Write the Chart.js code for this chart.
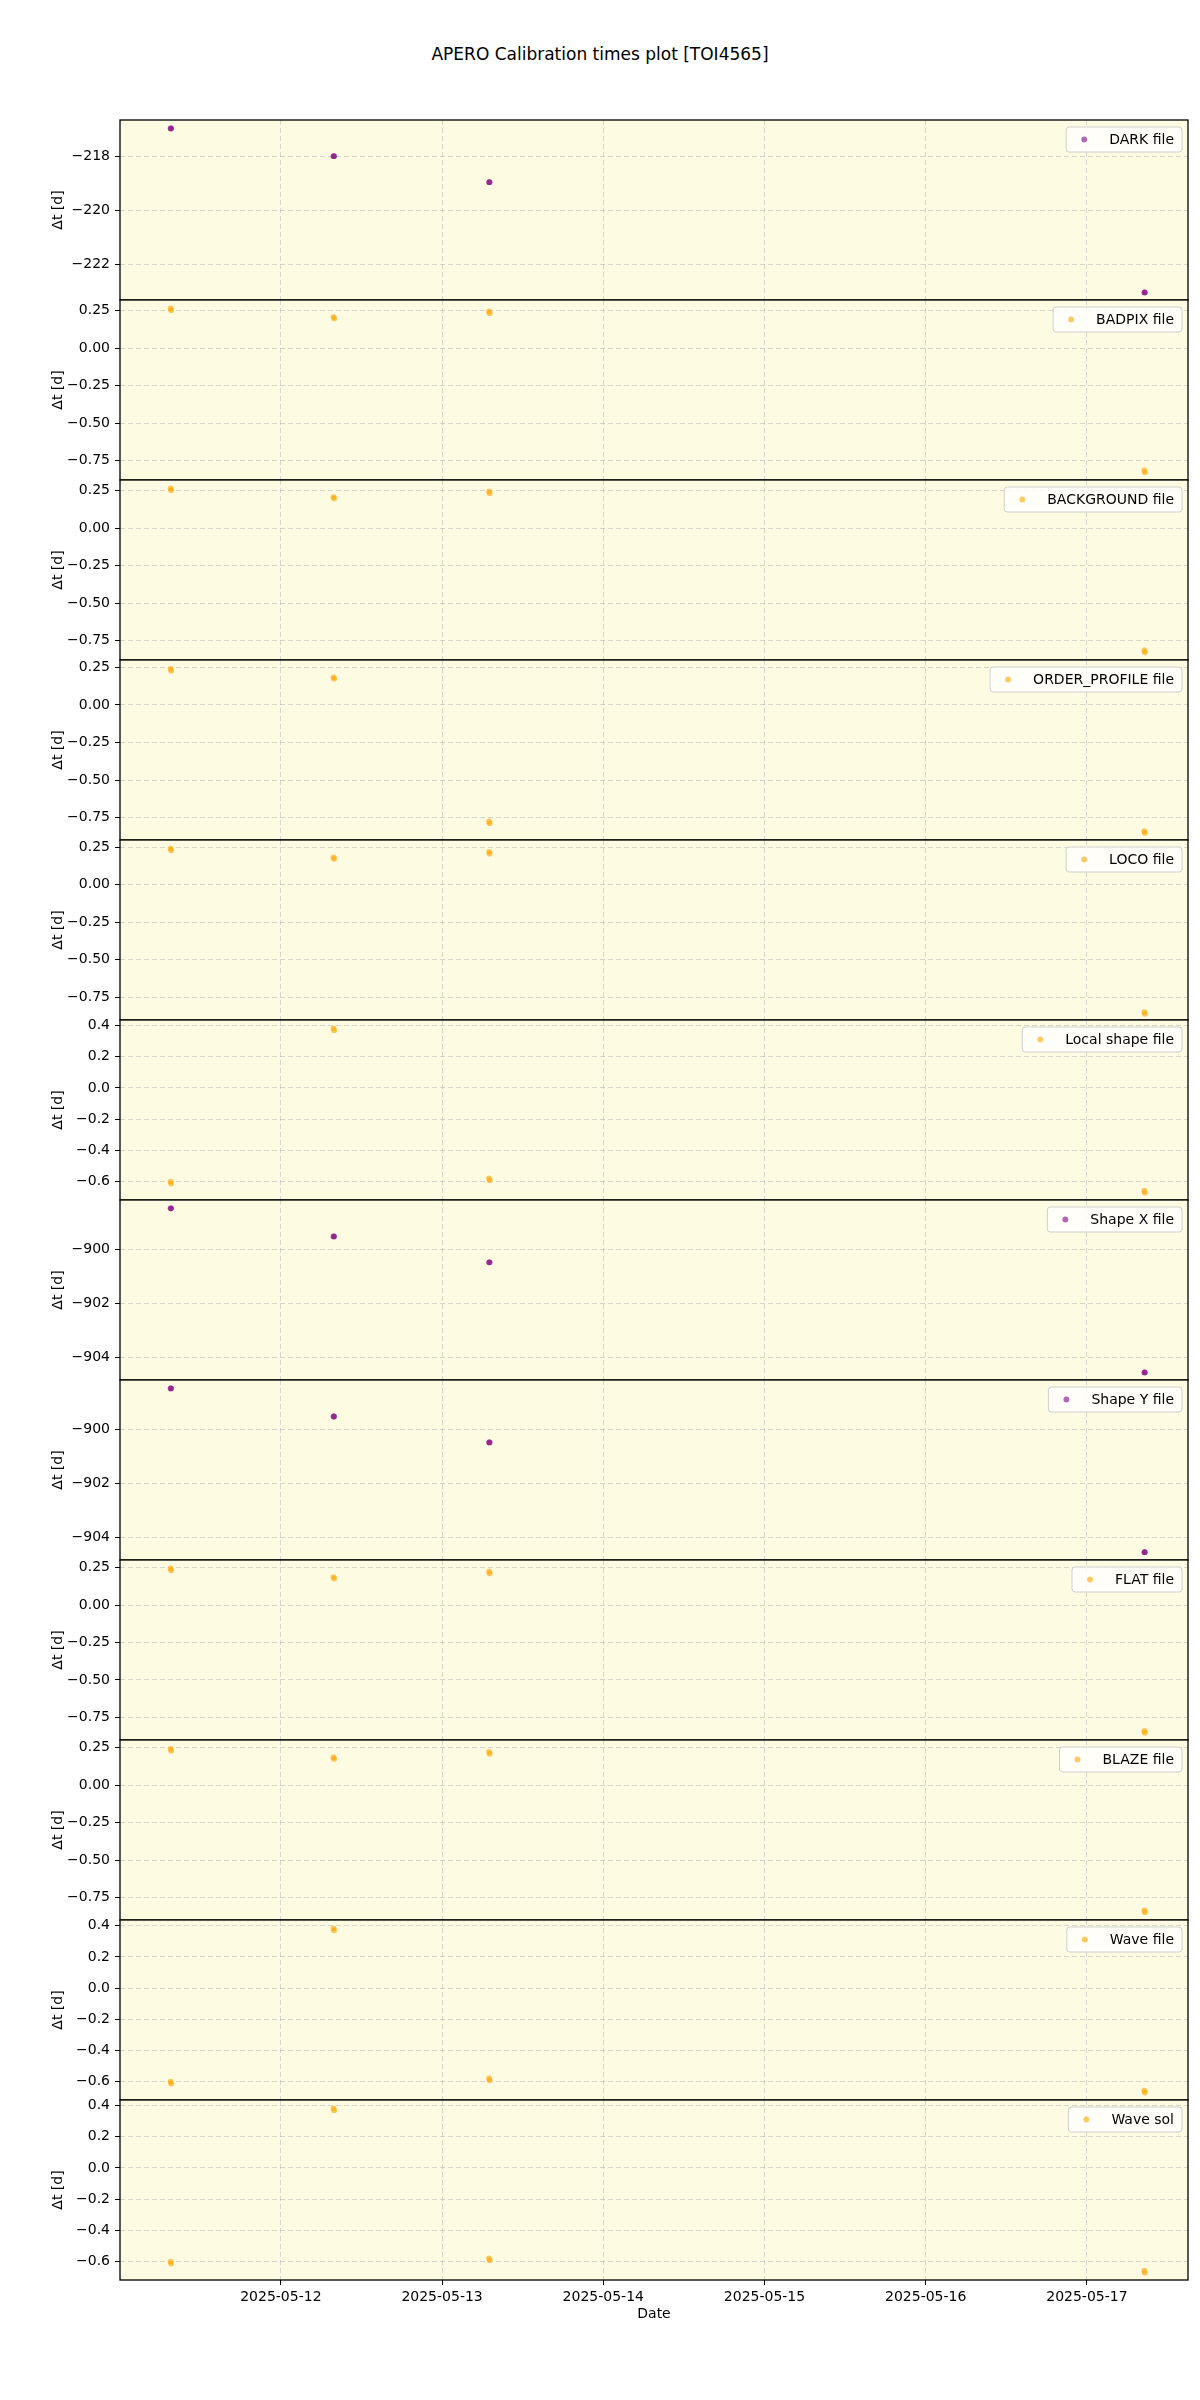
<!DOCTYPE html>
<html>
<head>
<meta charset="utf-8">
<title>APERO Calibration times plot</title>
<script src="https://cdn.jsdelivr.net/npm/chart.js@4.4.1/dist/chart.umd.min.js"></script>
<style>
    body { margin: 0; background: #fff; }
    #wrap { position: relative; width: 1200px; height: 2400px; }
    #title { position: absolute; top: 44px; left: 0; width: 1200px; text-align: center;
             font: 17px "DejaVu Sans", sans-serif; color: #000; }
    canvas { position: absolute; left: 0; }
</style>
</head>
<body>
<div id="wrap">
    <div id="title">APERO Calibration times plot [TOI4565]</div>
</div>
<script>
// Observation times (UTC), two files per night
const obsTimes = ['2025-05-11T07:35', '2025-05-11T07:40', '2025-05-12T07:50', '2025-05-12T07:56',
                  '2025-05-13T07:00', '2025-05-13T07:05', '2025-05-17T08:33', '2025-05-17T08:38'];

// Panels (calibration types)
const panelLabels = ['DARK file', 'BADPIX file', 'BACKGROUND file', 'ORDER_PROFILE file', 'LOCO file',
                     'Local shape file', 'Shape X file', 'Shape Y file', 'FLAT file', 'BLAZE file',
                     'Wave file', 'Wave sol'];

// Δt [d] for each panel, one value per entry in obsTimes
const darkDt       = [-216.97, -216.97, -218.00, -218.00, -218.96, -218.96, -223.04, -223.04];
const badpixDt     = [0.265, 0.253, 0.207, 0.198, 0.245, 0.233, -0.815, -0.828];
const backgroundDt = [0.265, 0.253, 0.207, 0.198, 0.245, 0.233, -0.815, -0.828];
const orderProfDt  = [0.240, 0.228, 0.184, 0.175, -0.776, -0.788, -0.840, -0.852];
const locoDt       = [0.242, 0.230, 0.182, 0.173, 0.220, 0.208, -0.850, -0.862];
const localShapeDt = [-0.600, -0.612, 0.381, 0.369, -0.579, -0.591, -0.658, -0.670];
const shapeXDt     = [-898.48, -898.48, -899.52, -899.52, -900.48, -900.48, -904.56, -904.56];
const shapeYDt     = [-898.48, -898.48, -899.52, -899.52, -900.48, -900.48, -904.54, -904.54];
const flatDt       = [0.245, 0.233, 0.188, 0.178, 0.225, 0.213, -0.841, -0.853];
const blazeDt      = [0.243, 0.231, 0.186, 0.176, 0.223, 0.211, -0.834, -0.846];
const waveFileDt   = [-0.600, -0.612, 0.383, 0.371, -0.579, -0.591, -0.657, -0.669];
const waveSolDt    = [-0.600, -0.612, 0.381, 0.369, -0.579, -0.591, -0.658, -0.670];

const panelValues = [darkDt, badpixDt, backgroundDt, orderProfDt, locoDt, localShapeDt,
                     shapeXDt, shapeYDt, flatDt, blazeDt, waveFileDt, waveSolDt];

// Axis limits and ticks
const xLimits = ['2025-05-11T00:03', '2025-05-17T15:03'];
const xTickDates = ['2025-05-12', '2025-05-13', '2025-05-14', '2025-05-15', '2025-05-16', '2025-05-17'];

const yLimits = [[-223.32, -216.66], [-0.879, 0.321], [-0.879, 0.321], [-0.899, 0.299], [-0.903, 0.299],
                 [-0.717, 0.434], [-904.84, -898.17], [-904.83, -898.17], [-0.902, 0.302], [-0.898, 0.302],
                 [-0.717, 0.437], [-0.717, 0.434]];
const quarterTicks = [0.25, 0, -0.25, -0.5, -0.75];
const fifthTicks = [0.4, 0.2, 0, -0.2, -0.4, -0.6];
const yTicks = [[-218, -220, -222], quarterTicks, quarterTicks, quarterTicks, quarterTicks, fifthTicks,
                [-900, -902, -904], [-900, -902, -904], quarterTicks, quarterTicks, fifthTicks, fifthTicks];
const yDecimals = [0, 2, 2, 2, 2, 1, 0, 0, 2, 2, 1, 1];

// ---- drawing ----
const FONT = '"DejaVu Sans", sans-serif';
const PURPLE = 'rgba(128, 0, 128, 0.6)';
const ORANGE = 'rgba(255, 165, 0, 0.6)';
const purplePanels = ['DARK file', 'Shape X file', 'Shape Y file'];
const GRID = 'rgba(170, 170, 170, 0.45)';

const toMs = s => Date.parse(s + (s.length === 10 ? 'T00:00:00Z' : ':00Z'));
const fmtNum = (v, d) => {
    const s = Math.abs(v).toFixed(d);
    return (v < 0 && Number(s) !== 0 ? '\u2212' : '') + s;
};
const fmtDate = ms => new Date(ms).toISOString().slice(0, 10);

const panelBg = {
    id: 'panelBg',
    beforeDraw(chart) {
        const { ctx, chartArea: a } = chart;
        ctx.save();
        ctx.fillStyle = '#fdfbe2';
        ctx.fillRect(a.left, a.top, a.right - a.left, a.bottom - a.top);
        ctx.restore();
    },
    afterDatasetsDraw(chart) {
        const { ctx, chartArea: a } = chart;
        ctx.save();
        ctx.strokeStyle = '#000';
        ctx.lineWidth = 1.3;
        ctx.strokeRect(a.left, a.top, a.right - a.left, a.bottom - a.top);
        ctx.restore();
    }
};

const panelLegend = {
    id: 'panelLegend',
    afterDraw(chart, args, opts) {
        const { ctx, chartArea: a } = chart;
        ctx.save();
        ctx.font = '14px ' + FONT;
        const tw = ctx.measureText(opts.label).width;
        const h = 25, w = 43 + tw + 8;
        const x = a.right - 6 - w, y = a.top + 7;
        ctx.beginPath();
        ctx.roundRect(x, y, w, h, 3);
        ctx.fillStyle = 'rgba(255,255,255,0.8)';
        ctx.fill();
        ctx.strokeStyle = '#d0d0d0';
        ctx.lineWidth = 1;
        ctx.stroke();
        ctx.beginPath();
        ctx.arc(x + 18, y + h / 2, 2.9, 0, Math.PI * 2);
        ctx.fillStyle = opts.color;
        ctx.fill();
        ctx.fillStyle = '#000';
        ctx.textBaseline = 'middle';
        ctx.fillText(opts.label, x + 43, y + h / 2 + 1);
        ctx.restore();
    }
};

const wrap = document.getElementById('wrap');
const xMin = toMs(xLimits[0]), xMax = toMs(xLimits[1]);
const xTickMs = xTickDates.map(toMs);

panelLabels.forEach((label, i) => {
    const last = i === panelLabels.length - 1;
    const padTop = 15, areaH = 180, xAxisH = last ? 50 : 0, padBottom = last ? 0 : 15;
    const canvas = document.createElement('canvas');
    canvas.width = 1200;
    canvas.height = padTop + areaH + xAxisH + padBottom;
    canvas.style.top = (120 + 180 * i - padTop) + 'px';
    wrap.appendChild(canvas);

    const color = purplePanels.includes(label) ? PURPLE : ORANGE;
    const points = obsTimes.map((t, k) => ({ x: toMs(t), y: panelValues[i][k] }));

    new Chart(canvas.getContext('2d'), {
        type: 'scatter',
        data: {
            datasets: [{
                label: label,
                data: points,
                backgroundColor: color,
                pointRadius: 2.9,
                pointBorderWidth: 0,
                pointHoverRadius: 2.9
            }]
        },
        options: {
            responsive: false,
            animation: false,
            devicePixelRatio: 1,
            layout: { padding: { top: padTop, bottom: padBottom, left: 0, right: 12 } },
            plugins: {
                legend: { display: false },
                tooltip: { enabled: false },
                panelLegend: { label: label, color: color }
            },
            scales: {
                x: {
                    type: 'linear',
                    min: xMin,
                    max: xMax,
                    afterBuildTicks: s => { s.ticks = xTickMs.map(v => ({ value: v })); },
                    afterFit: s => { s.height = xAxisH; },
                    grid: { color: GRID, drawTicks: last, tickLength: 5, tickColor: '#000',
                            tickBorderDash: [1, 0] },
                    border: { display: false, dash: [5, 3] },
                    ticks: {
                        display: last,
                        padding: 4,
                        color: '#000',
                        font: { family: FONT, size: 14 },
                        maxRotation: 0,
                        autoSkip: false,
                        callback: v => fmtDate(v)
                    },
                    title: {
                        display: last,
                        text: 'Date',
                        color: '#000',
                        font: { family: FONT, size: 14 },
                        padding: { top: 0, bottom: 7 }
                    }
                },
                y: {
                    type: 'linear',
                    min: yLimits[i][0],
                    max: yLimits[i][1],
                    afterBuildTicks: s => { s.ticks = yTicks[i].map(v => ({ value: v })); },
                    afterFit: s => { s.width = 120; },
                    grid: { color: GRID, tickLength: 5, tickColor: '#000', tickBorderDash: [1, 0] },
                    border: { display: false, dash: [5, 3] },
                    ticks: {
                        padding: 5,
                        color: '#000',
                        font: { family: FONT, size: 14 },
                        autoSkip: false,
                        callback: v => fmtNum(v, yDecimals[i])
                    },
                    title: {
                        display: true,
                        text: '\u0394t [d]',
                        color: '#000',
                        font: { family: FONT, size: 14 },
                        padding: { top: 50, bottom: 0 }
                    }
                }
            }
        },
        plugins: [panelBg, panelLegend]
    });
});
</script>
</body>
</html>
